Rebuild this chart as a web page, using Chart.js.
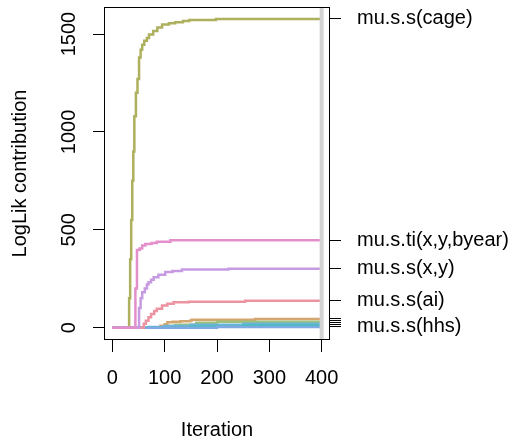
<!DOCTYPE html>
<html>
<head>
<meta charset="utf-8">
<script src="https://cdn.jsdelivr.net/npm/chart.js@4"></script>
<style>
  body { margin: 0; background: #fff; }
  #wrap { width: 517px; height: 438px; }
</style>
</head>
<body>
<div id="wrap"><canvas id="chart" width="517" height="438"></canvas></div>
<script>
// iteration / logLik contribution for each term
const cageIter = [0, 31, 32, 34, 36, 38, 40, 42, 45, 48, 51, 54, 57, 61, 66, 70, 78, 86, 95, 108, 120, 135, 147, 198, 400];
const cageVal  = [0, 0, 150, 350, 550, 750, 900, 1080, 1200, 1270, 1380, 1420, 1445, 1465, 1480, 1497, 1515, 1533, 1548, 1555, 1560, 1566, 1571, 1577, 1578];

const tiIter = [0, 43, 44, 47, 52, 57, 63, 75, 85, 111, 400];
const tiVal  = [0, 0, 200, 397, 405, 420, 427, 433, 439, 446, 446];

const xyIter = [0, 49, 51, 54, 57, 62, 66, 69, 74, 79, 88, 101, 115, 133, 222, 400];
const xyVal  = [0, 0, 100, 150, 181, 200, 220, 232, 245, 258, 270, 284, 290, 297, 301, 303];

const aiIter = [0, 58, 60, 64, 69, 74, 80, 85, 95, 105, 117, 146, 254, 400];
const aiVal  = [0, 0, 20, 35, 53, 70, 85, 96, 113, 122, 130, 133, 138, 140];

const tanIter = [0, 90, 92, 100, 105, 115, 130, 149, 152, 273, 400];
const tanVal  = [0, 0, 10, 18, 28, 30, 33, 36, 41, 44, 45];

const greenIter = [0, 95, 100, 120, 160, 200, 400];
const greenVal  = [0, 0, 8, 15, 25, 30, 35];

const blueIter = [0, 62, 70, 100, 150, 250, 400];
const blueVal  = [0, 0, 3, 8, 15, 20, 24];

const tealIter = [0, 100, 150, 250, 400];
const tealVal  = [0, 0, 5, 10, 14];

const hhsIter = [0, 120, 200, 400];
const hhsVal  = [0, 0, 3, 6];

const xTicks = [0, 100, 200, 300, 400];
const yTicks = [0, 500, 1000, 1500];

// labels on the right axis, keyed by final value
const endLabels = { 1578: "mu.s.s(cage)", 446: "mu.s.ti(x,y,byear)", 303: "mu.s.s(x,y)", 140: "mu.s.s(ai)", 6: "mu.s.s(hhs)" };
const endTicks = [1578, 446, 303, 140, 45, 35, 24, 14, 6];

const FONT = "'Liberation Sans', Arial, Helvetica, sans-serif";

function pts(xs, ys) {
    return xs.map((x, i) => ({ x: x, y: ys[i] }));
}

function series(xs, ys, color) {
    return {
        data: pts(xs, ys),
        borderColor: color,
        borderWidth: 2.5,
        pointRadius: 0,
        stepped: true,
        fill: false,
        yAxisID: "y"
    };
}

// no extra room for the end labels, the plot region is fixed
function noPad(axis) {
    axis.paddingTop = 0;
    axis.paddingBottom = 0;
    axis.paddingLeft = 0;
    axis.paddingRight = 0;
}

// box round the plot region, like R's box()
const boxPlugin = {
    id: "box",
    afterDraw(chart) {
        const a = chart.chartArea;
        const ctx = chart.ctx;
        ctx.save();
        ctx.strokeStyle = "#000";
        ctx.lineWidth = 1;
        ctx.strokeRect(Math.round(a.left) + 0.5, Math.round(a.top) + 0.5,
            Math.round(a.right - a.left) - 1, Math.round(a.bottom - a.top) - 1);
        ctx.restore();
    }
};

const tickFont = { family: FONT, size: 20 };

new Chart(document.getElementById("chart"), {
    type: "line",
    data: {
        datasets: [
            {
                data: [{ x: 400, y: -63 }, { x: 400, y: 1638 }],
                borderColor: "#D3D3D3",
                borderWidth: 4,
                pointRadius: 0,
                yAxisID: "y"
            },
            series(tiIter, tiVal, "#E38FCB"),
            series(xyIter, xyVal, "#C69BE2"),
            series(aiIter, aiVal, "#EB93A0"),
            series(hhsIter, hhsVal, "#7FA9E3"),
            series(tealIter, tealVal, "#3DC2B2"),
            series(blueIter, blueVal, "#6CB3DC"),
            series(greenIter, greenVal, "#9DC07A"),
            series(tanIter, tanVal, "#D4A56E"),
            series(cageIter, cageVal, "#ADB05D")
        ]
    },
    options: {
        responsive: false,
        animation: false,
        layout: { padding: { top: 7, left: 0, right: 0, bottom: 0 } },
        plugins: {
            legend: { display: false },
            tooltip: { enabled: false }
        },
        scales: {
            x: {
                type: "linear",
                min: -16,
                max: 416,
                afterBuildTicks: (axis) => { axis.ticks = xTicks.map(v => ({ value: v })); },
                afterFit: (axis) => { axis.height = 98; noPad(axis); },
                grid: { drawOnChartArea: false, drawTicks: true, tickLength: 12, color: "#000", tickWidth: 1 },
                border: { display: false },
                ticks: { color: "#000", font: tickFont, padding: 14, maxRotation: 0, autoSkip: false, callback: (v) => String(v) },
                title: { display: true, text: "Iteration", color: "#000", font: { family: FONT, size: 20, lineHeight: 0.8 }, padding: { top: 0, bottom: 0 } }
            },
            y: {
                type: "linear",
                position: "left",
                min: -63,
                max: 1638,
                afterBuildTicks: (axis) => { axis.ticks = yTicks.map(v => ({ value: v })); },
                afterFit: (axis) => { axis.width = 104; noPad(axis); },
                grid: { drawOnChartArea: false, drawTicks: true, tickLength: 11, color: "#000", tickWidth: 1 },
                border: { display: false },
                ticks: { color: "#000", font: tickFont, padding: 1, minRotation: 90, maxRotation: 90, crossAlign: "center", autoSkip: false, callback: (v) => String(v) },
                title: { display: true, text: "LogLik contribution", color: "#000", font: { family: FONT, size: 20, lineHeight: 1 }, padding: { top: 10, bottom: 0 } }
            },
            yr: {
                type: "linear",
                position: "right",
                min: -63,
                max: 1638,
                afterBuildTicks: (axis) => { axis.ticks = endTicks.map(v => ({ value: v })); },
                afterFit: (axis) => { axis.width = 187; noPad(axis); },
                grid: { drawOnChartArea: false, drawTicks: true, tickLength: 11, color: "#000", tickWidth: 1 },
                border: { display: false },
                ticks: {
                    color: "#000",
                    font: tickFont,
                    padding: 16,
                    autoSkip: false,
                    callback: (value) => endLabels[value] || ""
                }
            }
        }
    },
    plugins: [boxPlugin]
});
</script>
</body>
</html>
